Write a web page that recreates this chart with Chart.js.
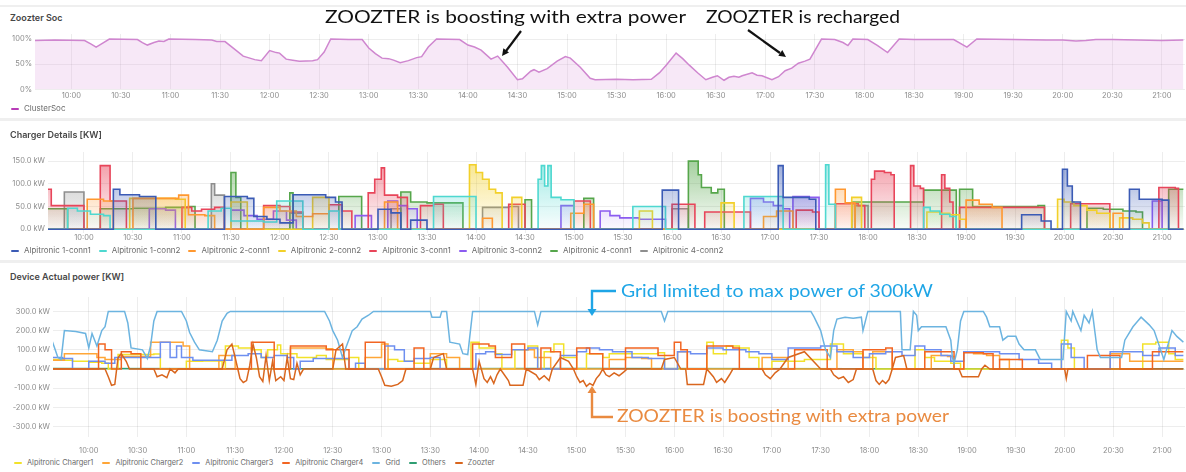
<!DOCTYPE html>
<html>
<head>
<meta charset="utf-8">
<script src="https://cdn.jsdelivr.net/npm/chart.js@4.4.1/dist/chart.umd.min.js"></script>
<style>
body{margin:0;background:#fff;font-family:Inter,"Noto Sans",sans-serif;}
#page{position:relative;width:1186px;height:472px;overflow:hidden;background:#fff;}
.sep{position:absolute;left:0;width:1186px;background:#efefef;}
.title{position:absolute;left:10px;font-size:9px;line-height:10px;font-weight:600;color:#474747;}
.box{position:absolute;left:0;width:1186px;}
.legend{position:absolute;font-size:8px;line-height:9px;color:#6b6b6b;white-space:nowrap;display:flex;}
.legend span{display:inline-flex;align-items:center;margin-right:8px;}
.legend i{display:inline-block;width:8px;height:2px;margin-right:5px;border-radius:1px;}
#leg3{font-size:7.4px;}
#leg3 span{margin-right:9px;}
#notes{position:absolute;left:0;top:0;pointer-events:none;}
</style>
</head>
<body>
<div id="page">
  <div class="sep" style="top:5px;height:2px"></div>
  <div class="title" style="top:13px">Zoozter Soc</div>
  <div class="box" style="top:34px;height:72px"><canvas id="soc"></canvas></div>
  <div class="legend" id="leg1" style="top:104px;left:11px"></div>

  <div class="sep" style="top:118px;height:3px"></div>
  <div class="title" style="top:130px">Charger Details [KW]</div>
  <div class="box" style="top:152px;height:98px"><canvas id="chargers"></canvas></div>
  <div class="legend" id="leg2" style="top:246px;left:11px"></div>

  <div class="sep" style="top:260px;height:3px"></div>
  <div class="title" style="top:272px">Device Actual power [KW]</div>
  <div class="box" style="top:297px;height:157px"><canvas id="power"></canvas></div>
  <div class="legend" id="leg3" style="top:458px;left:14px"></div>

  <svg id="notes" width="1186" height="472">
    <g font-family="Lato, 'Noto Sans', sans-serif">
      <text x="325" y="23" font-size="18" fill="#111" textLength="361" lengthAdjust="spacingAndGlyphs">ZOOZTER is boosting with extra power</text>
      <text x="706" y="23" font-size="18" fill="#111" textLength="194" lengthAdjust="spacingAndGlyphs">ZOOZTER is recharged</text>
      <text x="621" y="297" font-size="17" fill="#1EA5E6" textLength="312" lengthAdjust="spacingAndGlyphs">Grid limited to max power of 300kW</text>
      <text x="617" y="422" font-size="17" fill="#E98A40" textLength="332" lengthAdjust="spacingAndGlyphs">ZOOZTER is boosting with extra power</text>
    </g>
    <line x1="521" y1="31" x2="506" y2="51" stroke="#111" stroke-width="2.2"/>
    <polygon points="502,56 509,52.5 503.4,48.3" fill="#111"/>
    <line x1="748" y1="30" x2="780" y2="53" stroke="#111" stroke-width="2.2"/>
    <polygon points="786,57 778.3,55.8 782.3,50" fill="#111"/>
    <polyline points="616,291 592,291 592,309" fill="none" stroke="#1EA5E6" stroke-width="2.4"/>
    <polygon points="587.5,309 596.5,309 592,316" fill="#1EA5E6"/>
    <polyline points="613,417 592,417 592,393" fill="none" stroke="#E98A40" stroke-width="2.4"/>
    <polygon points="587.5,393 596.5,393 592,386" fill="#E98A40"/>
  </svg>
</div>

<script>
// time axis labels (shared by the three panels)
var tickLabels = ['10:00','10:30','11:00','11:30','12:00','12:30','13:00','13:30','14:00','14:30','15:00','15:30',
  '16:00','16:30','17:00','17:30','18:00','18:30','19:00','19:30','20:00','20:30','21:00'];

// ---- Zoozter Soc [%] ----
var clusterSoc = [['09:38',97],['09:50',98],['10:08',97],['10:12',90],['10:15',84],['10:19',92],['10:23',100],['10:40',99],
  ['10:43',93],['10:46',88],['10:50',93],['10:53',96],['10:56',95],['10:59',100],['11:15',99],['11:25',98],['11:28',95],
  ['11:33',95],['11:38',82],['11:44',66],['11:48',62],['11:51',59],['11:55',57],['12:00',77],['12:04',73],['12:06',72],
  ['12:10',60],['12:14',58],['12:18',56],['12:26',57],['12:29',59],['12:33',74],['12:37',100],['12:48',99],['12:56',99],
  ['13:00',82],['13:04',71],['13:08',62],['13:12',61],['13:15',58],['13:19',53],['13:24',57],['13:29',63],['13:32',65],
  ['13:36',84],['13:41',100],['13:55',99],['14:00',88],['14:04',84],['14:08',78],['14:14',60],['14:18',66],['14:24',44],
  ['14:30',19],['14:33',21],['14:38',36],['14:40',39],['14:43',34],['14:48',41],['14:54',56],['14:59',65],['15:02',62],
  ['15:08',44],['15:14',22],['15:17',19],['15:30',20],['15:40',19],['15:51',20],['15:56',33],['16:00',48],['16:06',72],
  ['16:10',61],['16:14',48],['16:19',33],['16:24',19],['16:28',24],['16:31',27],['16:35',18],['16:38',24],['16:41',26],
  ['16:44',24],['16:46',27],['16:52',33],['16:55',28],['16:58',27],['17:04',19],['17:08',25],['17:12',37],['17:16',42],
  ['17:20',52],['17:24',56],['17:27',60],['17:34',100],['17:42',99],['17:47',93],['17:50',87],['17:53',100],['18:02',99],
  ['18:08',87],['18:14',73],['18:21',100],['18:30',99],['18:40',99],['18:54',99],['19:02',84],['19:08',100],['19:30',99],
  ['19:50',98],['20:00',98],['20:08',96],['20:14',97],['20:20',99],['20:30',99],['20:45',98],['21:00',97],['21:13',98]];

// ---- Charger Details [kW] (value holds until next time) ----
var conn1a = [['09:38',0],['10:18',88],['10:22',76],['10:34',72],['10:44',0],['11:26',72],['11:40',68],['11:44',28],['11:52',22],
  ['12:00',14],['12:08',76],['12:28',70],['12:34',60],['12:38',0],['13:00',44],['13:08',36],['13:14',0],['13:20',20],['13:30',0],
  ['15:54',86],['16:04',0],['17:05',140],['17:08',70],['17:24',66],['17:28',0],['19:34',32],['19:46',18],['19:52',0],['19:59',132],
  ['20:02',95],['20:05',60],['20:10',0],['20:40',88],['20:46',66],['21:00',64],['21:04',0],['21:13',0]];
var conn1b = [['09:38',0],['09:50',46],['09:56',40],['10:04',33],['10:12',30],['10:16',0],['11:16',40],['11:24',46],['11:30',18],
  ['11:50',16],['11:58',62],['12:08',62],['12:14',0],['12:30',40],['12:36',0],['13:34',72],['13:56',72],['14:00',0],['14:38',110],
  ['14:40',140],['14:42',95],['14:44',140],['14:46',70],['14:52',65],['15:00',0],['15:36',50],['15:54',50],['15:56',0],['16:44',72],
  ['17:04',72],['17:08',0],['17:34',142],['17:36',55],['17:40',0],['18:34',48],['18:38',40],['18:44',33],['18:50',28],['18:54',0],['21:13',0]];
var conn2a = [['09:38',0],['10:02',66],['10:12',62],['10:18',0],['10:30',68],['10:50',68],['10:58',75],['11:04',32],['11:14',30],
  ['11:20',0],['11:50',48],['12:00',40],['12:10',28],['12:20',34],['12:30',0],['13:04',60],['13:12',0],['14:04',24],['14:10',0],
  ['14:58',35],['15:06',55],['15:12',0],['16:56',28],['17:04',40],['17:14',0],['17:40',88],['17:46',58],['17:52',0],['19:00',64],
  ['19:08',55],['19:16',48],['19:22',0],['20:30',35],['20:36',0],['21:13',0]];
var conn2b = [['09:38',0],['10:28',68],['10:56',66],['11:02',0],['11:30',60],['11:40',0],['12:20',70],['12:30',0],['13:56',142],
  ['14:00',125],['14:04',110],['14:08',88],['14:12',80],['14:16',0],['14:22',70],['14:28',0],['15:40',40],['15:48',0],['16:30',58],
  ['16:38',0],['17:50',70],['17:56',0],['18:36',38],['18:44',35],['18:50',32],['18:56',22],['19:00',0],['19:56',66],['20:00',60],
  ['20:06',52],['20:14',42],['20:20',35],['20:28',0],['20:34',25],['20:42',22],['20:48',14],['20:52',0],['21:13',0]];
var conn3a = [['09:38',88],['09:40',52],['09:54',52],['10:00',0],['10:10',140],['10:16',62],['10:26',0],['11:00',48],['11:06',40],
  ['11:12',44],['11:20',48],['11:26',0],['11:50',52],['12:00',50],['12:06',38],['12:14',0],['12:30',54],['12:38',40],['12:44',0],
  ['12:54',80],['12:58',110],['13:02',135],['13:04',75],['13:12',70],['13:18',0],['13:26',52],['13:34',55],['13:40',0],['14:20',55],
  ['14:30',0],['15:00',62],['15:10',0],['16:00',55],['16:14',0],['16:20',38],['16:44',38],['16:48',0],['17:16',42],['17:26',38],
  ['17:30',0],['17:40',56],['17:54',52],['17:58',0],['18:02',110],['18:04',128],['18:10',125],['18:14',120],['18:16',0],['18:26',140],
  ['18:28',95],['18:32',90],['18:34',0],['18:45',120],['18:47',90],['18:50',60],['18:52',0],['18:56',48],['19:46',48],['19:48',0],
  ['20:04',56],['20:24',56],['20:28',0],['20:58',92],['21:08',90],['21:10',0],['21:13',0]];
var conn3b = [['09:38',0],['10:40',45],['10:50',42],['10:56',0],['11:30',42],['11:38',30],['11:46',22],['11:56',40],['12:04',20],
  ['12:10',0],['12:46',30],['12:56',0],['13:06',62],['13:12',52],['13:18',45],['13:24',0],['14:52',52],['15:00',0],['15:16',40],
  ['15:22',30],['15:28',25],['15:40',22],['15:52',22],['15:56',0],['16:48',68],['16:56',60],['17:02',52],['17:08',45],['17:12',0],
  ['17:14',72],['17:24',70],['17:30',0],['20:54',62],['21:00',0],['21:13',0]];
var conn4a = [['09:38',45],['09:50',0],['10:10',45],['10:30',46],['10:50',48],['11:04',50],['11:08',0],['11:30',125],['11:33',70],
  ['11:36',0],['12:06',80],['12:08',0],['12:36',72],['12:50',0],['13:14',82],['13:20',60],['13:30',58],['13:48',58],['13:52',0],
  ['14:30',65],['14:34',0],['15:06',68],['15:12',0],['16:10',150],['16:16',120],['16:18',92],['16:24',80],['16:28',88],['16:32',0],
  ['17:50',60],['18:30',60],['18:34',86],['18:50',86],['18:54',0],['18:56',88],['19:02',88],['19:04',50],['19:44',52],['19:48',0],
  ['20:14',46],['20:24',44],['20:36',40],['20:44',38],['20:48',0],['21:04',88],['21:13',88]];
var conn4b = [['09:38',0],['09:48',82],['09:58',82],['10:00',0],['11:18',100],['11:20',75],['11:26',0],['12:06',35],['12:14',0],
  ['13:08',45],['13:14',0],['14:04',48],['14:20',50],['14:26',0],['16:00',45],['16:10',0],['17:52',52],['18:00',0],['21:13',0]];

// ---- Device Actual power [kW] ----
var charger1 = [['09:37',50],['09:45',45],['09:50',40],['10:00',35],['10:08',30],['10:12',0],['10:18',75],['10:40',78],['10:44',0],
  ['11:00',40],['11:10',42],['11:22',0],['11:24',120],['11:32',110],['11:40',100],['11:46',60],['11:50',100],['11:56',125],
  ['11:58',80],['12:08',60],['12:20',70],['12:26',50],['12:40',60],['12:46',0],['13:04',50],['13:10',40],['13:20',30],['13:30',50],
  ['13:40',0],['13:55',140],['14:00',110],['14:10',80],['14:14',0],['14:22',100],['14:30',120],['14:36',0],['14:40',90],['14:46',130],
  ['14:52',60],['15:00',0],['15:06',80],['15:16',60],['15:20',80],['15:50',85],['15:54',0],['16:20',140],['16:24',80],['16:32',120],
  ['16:40',110],['16:46',60],['16:52',0],['17:00',40],['17:20',50],['17:36',130],['17:40',130],['17:44',80],['17:56',60],['18:04',0],
  ['18:28',100],['18:34',60],['18:40',40],['18:50',30],['18:56',0],['19:58',150],['20:02',110],['20:06',0],['20:48',130],['20:56',140],
  ['21:04',80],['21:08',50],['21:13',50]];
var charger2 = [['09:37',45],['09:45',80],['10:02',80],['10:05',60],['10:10',50],['10:20',65],['10:38',140],['10:56',140],['10:58',120],
  ['11:02',0],['11:18',0],['11:20',70],['11:30',0],['12:04',110],['12:26',105],['12:30',0],['12:50',60],['13:00',130],['13:04',0],
  ['13:30',80],['13:40',60],['13:48',0],['14:28',100],['14:34',60],['14:44',0],['15:20',50],['15:30',60],['15:40',55],['15:46',0],
  ['16:02',90],['16:08',0],['16:54',60],['17:06',60],['17:10',0],['17:40',100],['17:50',90],['17:56',0],['18:02',90],['18:14',0],
  ['18:38',70],['18:48',65],['18:52',0],['18:58',90],['19:04',80],['19:12',70],['19:20',50],['19:26',0],['20:28',80],['20:40',40],['21:13',40]];
var charger3 = [['09:37',60],['09:44',55],['09:50',0],['10:00',40],['10:10',30],['10:16',60],['10:38',60],['10:44',140],['10:48',140],
  ['10:50',60],['10:54',120],['10:57',60],['11:04',45],['11:24',45],['11:28',70],['11:38',80],['11:46',60],['11:54',70],['12:02',60],
  ['12:06',0],['12:10',40],['12:18',55],['12:34',55],['12:40',0],['12:44',30],['12:50',0],['13:02',120],['13:08',100],['13:14',40],
  ['13:20',55],['13:30',60],['13:36',0],['13:58',80],['14:04',90],['14:10',75],['14:20',100],['14:30',110],['14:36',0],['14:50',70],
  ['15:00',90],['15:06',110],['15:14',100],['15:22',90],['15:34',60],['15:44',55],['15:54',0],['16:02',90],['16:10',80],['16:20',110],
  ['16:30',100],['16:44',90],['16:52',80],['17:00',50],['17:10',110],['17:30',120],['17:40',90],['17:50',60],['18:00',80],['18:10',90],
  ['18:20',70],['18:28',120],['18:34',100],['18:44',70],['18:50',40],['18:58',90],['19:20',80],['19:32',50],['19:44',30],['19:52',0],
  ['19:58',130],['20:04',60],['20:12',0],['20:28',90],['20:40',90],['20:48',70],['20:58',110],['21:08',70],['21:13',70]];
var charger4 = [['09:37',0],['10:06',130],['10:10',100],['10:14',0],['10:20',90],['10:26',80],['10:32',0],['11:26',0],['11:40',140],
  ['11:50',140],['11:54',0],['12:04',120],['12:16',120],['12:26',100],['12:36',100],['12:40',0],['12:50',140],['12:58',140],['13:02',0],
  ['13:20',110],['13:26',0],['13:56',130],['14:06',120],['14:10',60],['14:20',130],['14:28',0],['14:38',110],['14:44',90],['14:50',0],
  ['15:00',110],['15:08',80],['15:16',0],['15:30',110],['15:50',70],['16:00',140],['16:04',100],['16:08',0],['16:20',120],['16:36',110],
  ['16:40',0],['17:14',100],['17:30',100],['17:34',0],['17:56',100],['18:10',110],['18:14',0],['18:34',90],['18:48',90],['18:52',0],
  ['18:58',85],['19:10',80],['19:16',0],['19:20',50],['19:30',50],['19:34',0],['20:14',70],['20:30',70],['20:34',0],['20:54',90],['21:13',90]];
var grid = [['09:37',156],['09:39',110],['09:41',60],['09:43',50],['09:45',200],['09:52',195],['09:58',185],['10:00',110],['10:02',185],
  ['10:05',120],['10:08',200],['10:10',220],['10:12',300],['10:22',300],['10:24',240],['10:26',110],['10:33',100],['10:36',55],
  ['10:38',120],['10:40',250],['10:42',300],['10:57',300],['11:00',250],['11:02',190],['11:05',140],['11:08',100],['11:16',90],
  ['11:19',150],['11:22',250],['11:25',290],['11:27',300],['12:25',300],['12:28',250],['12:30',200],['12:33',150],['12:36',60],
  ['12:38',110],['12:42',200],['12:45',220],['12:48',260],['12:52',280],['12:55',300],['13:30',300],['13:31',270],['13:36',270],
  ['13:37',300],['13:40',300],['13:42',140],['13:48',130],['13:50',80],['13:53',75],['13:56',300],['14:34',300],['14:36',230],
  ['14:38',300],['15:52',300],['15:54',250],['15:56',300],['17:24',300],['17:26',270],['17:30',200],['17:33',100],['17:36',60],
  ['17:38',200],['17:40',260],['17:45',270],['17:50',265],['17:55',270],['17:56',200],['17:59',300],['18:19',300],['18:20',100],
  ['18:25',100],['18:27',300],['18:29',280],['18:30',200],['18:32',220],['18:47',220],['18:50',150],['18:51',60],['18:52',30],
  ['18:54',100],['18:56',250],['18:58',300],['19:10',300],['19:12',270],['19:14',220],['19:20',220],['19:22',150],['19:25',170],
  ['19:30',170],['19:32',130],['19:35',100],['19:42',100],['19:45',50],['19:59',50],['20:01',300],['20:04',250],['20:05',300],
  ['20:10',200],['20:12',280],['20:15',240],['20:17',300],['20:20',100],['20:22',60],['20:35',60],['20:37',150],['20:42',220],
  ['20:45',250],['20:47',270],['20:52',230],['20:55',200],['20:59',100],['21:01',50],['21:06',200],['21:09',170],['21:13',140]];
var others = [['09:37',3],['12:00',2],['15:00',3],['18:00',2],['21:13',2]];
var zoozter = [['09:37',0],['10:10',0],['10:12',-40],['10:14',-85],['10:16',-80],['10:18',60],['10:20',80],['10:23',40],['10:25',0],
  ['10:40',0],['10:42',-40],['10:45',-30],['10:48',-45],['10:50',0],['10:53',-20],['10:55',0],['11:22',0],['11:25',100],['11:28',130],
  ['11:30',60],['11:33',-50],['11:35',-70],['11:37',-60],['11:39',20],['11:41',130],['11:43',60],['11:45',-40],['11:47',-65],
  ['11:49',70],['11:51',-60],['11:53',40],['11:55',-60],['11:58',-40],['12:00',-60],['12:02',60],['12:04',-50],['12:06',-55],
  ['12:08',30],['12:10',-30],['12:12',0],['12:30',0],['12:32',100],['12:36',130],['12:38',0],['12:58',0],['13:00',-40],['13:02',-85],
  ['13:06',-90],['13:10',-80],['13:13',-60],['13:15',0],['13:30',0],['13:32',60],['13:38',80],['13:40',0],['13:56',0],['13:58',-80],
  ['14:00',40],['14:03',-50],['14:05',-70],['14:07',-40],['14:09',-75],['14:11',-30],['14:13',0],['14:18',-60],['14:19',-85],
  ['14:27',-85],['14:29',0],['14:35',-30],['14:37',-55],['14:40',-35],['14:43',-60],['14:45',0],['14:50',60],['14:55',40],['14:58',0],
  ['15:00',-40],['15:02',-70],['15:04',-60],['15:06',-90],['15:08',-75],['15:10',-85],['15:12',-50],['15:14',-30],['15:16',0],
  ['15:18',-30],['15:20',-40],['15:23',-20],['15:26',-35],['15:29',-15],['15:31',0],['15:52',0],['15:54',50],['16:00',60],['16:04',0],
  ['16:07',0],['16:08',-80],['16:18',-80],['16:20',0],['16:24',-40],['16:26',-70],['16:29',-50],['16:31',-70],['16:34',-30],['16:36',0],
  ['16:54',0],['16:56',-30],['16:59',-50],['17:02',-20],['17:05',0],['17:10',60],['17:20',90],['17:30',0],['17:36',0],['17:38',-30],
  ['17:41',-50],['17:44',-40],['17:47',-70],['17:50',-55],['17:52',0],['18:02',0],['18:04',-60],['18:06',-80],['18:08',-60],
  ['18:10',-75],['18:12',-55],['18:14',0],['18:16',60],['18:21',70],['18:23',0],['18:55',0],['18:57',-40],['19:07',-40],['19:09',0],
  ['19:11',20],['19:14',0],['20:00',0],['20:01',-50],['20:02',0],['21:13',0]];

var socTicks = [0, 50, 100];
var chargerTicks = [0, 50, 100, 150];
var powerTicks = [-300, -200, -100, 0, 100, 200, 300];

function tm(s) { var p = s.split(':'); return +p[0] * 60 + +p[1]; }
function pts(arr) { return arr.map(function(d){ return {x: tm(d[0]), y: d[1]}; }); }
function hhmm(v) { var h = Math.floor(v / 60), m = v % 60; return (h < 10 ? '0' : '') + h + ':' + (m < 10 ? '0' : '') + m; }
function rgba(hex, a) {
  var n = parseInt(hex.slice(1), 16);
  return 'rgba(' + (n >> 16) + ',' + ((n >> 8) & 255) + ',' + (n & 255) + ',' + a + ')';
}

var gridColor = 'rgba(0,0,0,0.07)';
var tickFont = {size: 7.5, family: 'Inter'};

function timeAxis(h, pad) {
  return {
    type: 'linear', min: 578, max: 1274,
    afterBuildTicks: function(s){ s.ticks = tickLabels.map(function(l){ return {value: tm(l)}; }); },
    afterFit: function(s){ s.height = h; s.paddingLeft = 0; s.paddingRight = 0; },
    grid: {color: gridColor, drawTicks: false},
    border: {display: false},
    ticks: {padding: pad, color: '#8c8c8c', font: tickFont, maxRotation: 0, autoSkip: false,
      callback: function(v){ return hhmm(v); }}
  };
}
function valueAxis(min, max, ticks, w, fmt) {
  return {
    min: min, max: max,
    afterBuildTicks: function(s){ s.ticks = ticks.map(function(v){ return {value: v}; }); },
    afterFit: function(s){ s.width = w; s.paddingTop = 0; s.paddingBottom = 0; },
    grid: {color: gridColor, drawTicks: false},
    border: {display: false},
    ticks: {padding: 3, color: '#8c8c8c', font: tickFont, callback: fmt}
  };
}
function baseOptions(scales) {
  return {
    responsive: true, maintainAspectRatio: false, animation: false,
    layout: {padding: {left: 0, right: 1, top: 0, bottom: 0}},
    plugins: {legend: {display: false}, tooltip: {enabled: false}},
    elements: {point: {radius: 0}, line: {tension: 0}},
    scales: scales
  };
}
function legend(id, names, colors) {
  var el = document.getElementById(id);
  names.forEach(function(n, i){
    var s = document.createElement('span');
    s.innerHTML = '<i style="background:' + colors[i] + '"></i>' + n;
    el.appendChild(s);
  });
}

// panel 1
new Chart(document.getElementById('soc'), {
  type: 'line',
  data: {datasets: [{label: 'ClusterSoc', data: pts(clusterSoc), borderColor: '#CF86CF', borderWidth: 1.5,
    fill: 'origin', backgroundColor: 'rgba(226,165,226,0.26)'}]},
  options: baseOptions({
    x: timeAxis(16.7, 2),
    y: valueAxis(0, 110, socTicks, 35, function(v){ return v + '%'; })
  })
});
legend('leg1', ['ClusterSoc'], ['#B83CB8']);

// panel 2
var connNames = ['Alpitronic 1-conn1','Alpitronic 1-conn2','Alpitronic 2-conn1','Alpitronic 2-conn2',
  'Alpitronic 3-conn1','Alpitronic 3-conn2','Alpitronic 4-conn1','Alpitronic 4-conn2'];
var connColors = ['#3B5BB5','#4ED8D0','#FF9830','#F2D02A','#E8455A','#8C5CF0','#56A64B','#8E8E8E'];
var connData = [conn1a, conn1b, conn2a, conn2b, conn3a, conn3b, conn4a, conn4b];

new Chart(document.getElementById('chargers'), {
  type: 'line',
  data: {datasets: connData.map(function(d, i){
    var c = connColors[i];
    return {
      label: connNames[i], data: pts(d), stepped: true, borderColor: c, borderWidth: 1.6, fill: 'origin',
      backgroundColor: function(ctx){
        var ch = ctx.chart, a = ch.chartArea;
        if (!a) return rgba(c, 0.2);
        var g = ch.ctx.createLinearGradient(0, a.top, 0, ch.scales.y.getPixelForValue(0));
        g.addColorStop(0, rgba(c, 0.6));
        g.addColorStop(1, rgba(c, 0.03));
        return g;
      }
    };
  })},
  options: baseOptions({
    x: timeAxis(16.7, 0),
    y: valueAxis(-9, 170, chargerTicks, 48, function(v){ return v.toFixed(1) + ' kW'; })
  })
});
legend('leg2', connNames, connColors);

// panel 3
var powNames = ['Alpitronic Charger1','Alpitronic Charger2','Alpitronic Charger3','Alpitronic Charger4','Grid','Others','Zoozter'];
var powColors = ['#F2E22A','#FFA637','#6E8FF0','#F26522','#6CB4E0','#2E9E72','#D9661E'];
var powData = [charger1, charger2, charger3, charger4, grid, others, zoozter];
var powOrder = [5, 4, 3, 2, 1, 6, 0];
var powStepped = [true, true, true, true, false, false, false];

new Chart(document.getElementById('power'), {
  type: 'line',
  data: {datasets: powData.map(function(d, i){
    return {label: powNames[i], data: pts(d), borderColor: powColors[i], borderWidth: 1.5, fill: false,
      stepped: powStepped[i], order: powOrder[i]};
  })},
  options: baseOptions({
    x: timeAxis(17.2, 9),
    y: valueAxis(-353, 375, powerTicks, 53, function(v){ return v.toFixed(1) + ' kW'; })
  })
});
legend('leg3', powNames, powColors);
</script>
</body>
</html>
